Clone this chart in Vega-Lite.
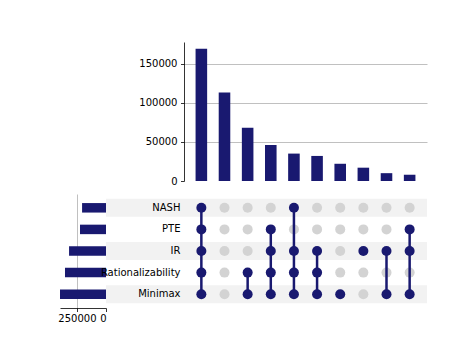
{
  "$schema": "https://vega.github.io/schema/vega-lite/v6.json",
  "padding": {"left": 57, "top": 42, "right": 5, "bottom": 5},
  "config": {
    "view": {"stroke": null},
    "font": "DejaVu Sans",
    "axis": {"labelFont": "DejaVu Sans", "labelFontSize": 10, "labelColor": "#000000"}
  },
  "datasets": {
    "inter": [
      {"col": 1, "count": 169000, "NASH": 1, "PTE": 1, "IR": 1, "Rationalizability": 1, "Minimax": 1},
      {"col": 2, "count": 113000, "NASH": 0, "PTE": 0, "IR": 0, "Rationalizability": 0, "Minimax": 0},
      {"col": 3, "count": 68000, "NASH": 0, "PTE": 0, "IR": 0, "Rationalizability": 1, "Minimax": 1},
      {"col": 4, "count": 46000, "NASH": 0, "PTE": 1, "IR": 1, "Rationalizability": 1, "Minimax": 1},
      {"col": 5, "count": 35000, "NASH": 1, "PTE": 0, "IR": 1, "Rationalizability": 1, "Minimax": 1},
      {"col": 6, "count": 32000, "NASH": 0, "PTE": 0, "IR": 1, "Rationalizability": 1, "Minimax": 1},
      {"col": 7, "count": 22000, "NASH": 0, "PTE": 0, "IR": 0, "Rationalizability": 0, "Minimax": 1},
      {"col": 8, "count": 17000, "NASH": 0, "PTE": 0, "IR": 1, "Rationalizability": 0, "Minimax": 0},
      {"col": 9, "count": 10000, "NASH": 0, "PTE": 0, "IR": 1, "Rationalizability": 0, "Minimax": 1},
      {"col": 10, "count": 8000, "NASH": 0, "PTE": 1, "IR": 1, "Rationalizability": 0, "Minimax": 1}
    ],
    "sets": [
      {"set": "NASH", "total": 206000, "shade": 1},
      {"set": "PTE", "total": 224000, "shade": 0},
      {"set": "IR", "total": 318000, "shade": 1},
      {"set": "Rationalizability", "total": 353000, "shade": 0},
      {"set": "Minimax", "total": 396000, "shade": 1}
    ]
  },
  "columns": 2,
  "align": "each",
  "bounds": "flush",
  "spacing": {"row": 13, "column": 78},
  "concat": [
    {
      "width": 46,
      "height": 139,
      "data": {"values": [{"a": 0}]},
      "mark": {"type": "point", "opacity": 0},
      "encoding": {}
    },
    {
      "width": 243,
      "height": 139,
      "data": {"name": "inter"},
      "mark": {"type": "bar", "color": "#191970"},
      "encoding": {
        "x": {"field": "col", "type": "ordinal", "scale": {"paddingInner": 0.5, "paddingOuter": 0.5}, "axis": null},
        "y": {
          "field": "count", "type": "quantitative",
          "scale": {"domain": [0, 177500], "nice": false},
          "axis": {
            "values": [0, 50000, 100000, 150000], "format": "d", "title": null,
            "grid": true, "gridColor": "#b0b0b0", "gridWidth": 0.8,
            "gridOpacity": {"condition": {"test": "datum.value === 0", "value": 0}, "value": 1},
            "domainColor": "#000000", "domainWidth": 0.8, "tickColor": "#000000", "tickWidth": 0.8,
            "tickSize": 3.5, "labelPadding": 3.5
          }
        }
      }
    },
    {
      "width": 46,
      "height": 114,
      "data": {"name": "sets"},
      "mark": {"type": "bar", "color": "#191970", "height": {"band": 0.44}},
      "encoding": {
        "y": {
          "field": "set", "type": "nominal",
          "sort": ["NASH", "PTE", "IR", "Rationalizability", "Minimax"],
          "scale": {"paddingInner": 0, "paddingOuter": 0.14},
          "axis": null
        },
        "x": {
          "field": "total", "type": "quantitative",
          "scale": {"domain": [0, 396000], "reverse": true, "nice": false},
          "axis": {
            "values": [0, 250000], "format": "d", "title": null,
            "grid": true, "gridColor": "#b0b0b0", "gridWidth": 0.8,
            "gridOpacity": {"condition": {"test": "datum.value === 0", "value": 0}, "value": 1},
            "domainColor": "#000000", "domainWidth": 0.8, "tickColor": "#000000", "tickWidth": 0.8,
            "tickSize": 3.5, "labelPadding": 2
          }
        }
      }
    },
    {
      "width": 243,
      "height": 114,
      "layer": [
        {
          "data": {"name": "sets"},
          "transform": [{"filter": "datum.shade == 1"}],
          "mark": {"type": "bar", "color": "#f2f2f2", "height": {"band": 0.83}},
          "encoding": {
            "x": {"datum": -3.12, "type": "quantitative", "scale": {"domain": [0.25, 10.75], "nice": false, "zero": false}, "axis": null},
            "x2": {"datum": 10.75},
            "y": {
              "field": "set", "type": "nominal",
              "sort": ["NASH", "PTE", "IR", "Rationalizability", "Minimax"],
              "scale": {"paddingInner": 0, "paddingOuter": 0.14},
              "axis": {"title": null, "domain": false, "ticks": false, "labelPadding": 4, "zindex": 1}
            }
          }
        },
        {
          "data": {"name": "inter"},
          "transform": [
            {"fold": ["NASH", "PTE", "IR", "Rationalizability", "Minimax"], "as": ["set", "member"]},
            {"filter": "datum.member == 0"}
          ],
          "mark": {"type": "circle", "size": 100, "opacity": 1, "color": "#d3d3d3"},
          "encoding": {
            "x": {"field": "col", "type": "quantitative"},
            "y": {"field": "set", "type": "nominal", "sort": ["NASH", "PTE", "IR", "Rationalizability", "Minimax"]}
          }
        },
        {
          "data": {"name": "inter"},
          "transform": [
            {"fold": ["NASH", "PTE", "IR", "Rationalizability", "Minimax"], "as": ["set", "member"]},
            {"filter": "datum.member == 1"}
          ],
          "mark": {"type": "line", "color": "#191970", "strokeWidth": 2.5},
          "encoding": {
            "x": {"field": "col", "type": "quantitative"},
            "y": {"field": "set", "type": "nominal", "sort": ["NASH", "PTE", "IR", "Rationalizability", "Minimax"]},
            "detail": {"field": "col", "type": "nominal"},
            "order": {"value": null}
          }
        },
        {
          "data": {"name": "inter"},
          "transform": [
            {"fold": ["NASH", "PTE", "IR", "Rationalizability", "Minimax"], "as": ["set", "member"]},
            {"filter": "datum.member == 1"}
          ],
          "mark": {"type": "circle", "size": 100, "opacity": 1, "color": "#191970"},
          "encoding": {
            "x": {"field": "col", "type": "quantitative"},
            "y": {"field": "set", "type": "nominal", "sort": ["NASH", "PTE", "IR", "Rationalizability", "Minimax"]}
          }
        }
      ]
    }
  ]
}
